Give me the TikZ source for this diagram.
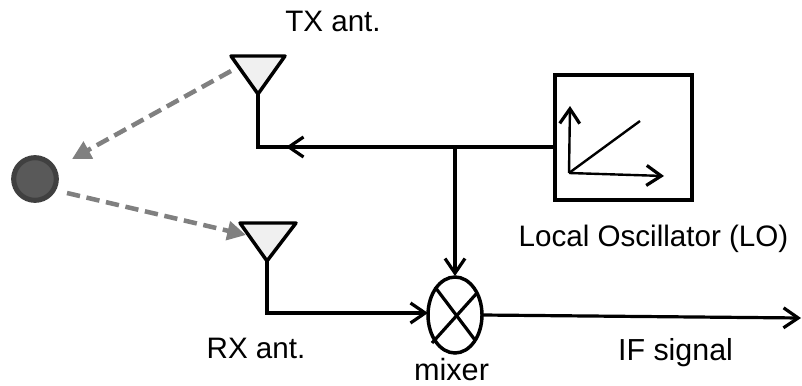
\documentclass[tikz,border=0pt]{standalone}
\usepackage{fontspec}
\setmainfont{Liberation Sans}
\usetikzlibrary{arrows.meta}
\tikzset{
  wire/.style={draw=black,line width=2.4pt},
  thick wire/.style={draw=black,line width=3.6pt},
  barb/.style={-{Straight Barb[length=11pt,width=15pt,line width=2.4pt]}},
  echo/.style={draw=black!50,line width=3.4pt,dash pattern=on 10pt off 5pt,-{Triangle[length=14pt,width=14pt,fill=black!50]}},
  ant/.style={draw=black,fill=black!6,line width=2.6pt,line join=round},
  lbl/.style={font=\fontsize{22.2}{24}\selectfont,inner sep=0pt,text=black,anchor=base}
}
\begin{document}
\begin{tikzpicture}[x=0.75pt,y=-0.75pt]
\useasboundingbox (0,0) rectangle (802,385);
% coordinates
\coordinate (txl) at (231,56); \coordinate (txr) at (285,56); \coordinate (txa) at (258,94);
\coordinate (rxl) at (240,223); \coordinate (rxr) at (296,223); \coordinate (rxa) at (267,261);
\coordinate (txc) at (258,147);
\coordinate (tj) at (455,147);
\coordinate (rxc) at (267,313);
\coordinate (ifend) at (801,318);
\coordinate (o) at (569,173); \coordinate (oy) at (570,106); \coordinate (ox) at (664,176); \coordinate (os) at (640,121);
\coordinate (d1s) at (231,71); \coordinate (d1e) at (72,159);
\coordinate (d2s) at (67,193); \coordinate (d2e) at (246,235);
% nodes
\node[draw=black!75,fill=black!65,line width=3.8pt,circle,inner sep=0pt,minimum size=32pt] (tgt) at (35,179) {};
\node[draw=black,line width=3pt,minimum width=102.5pt,minimum height=93.5pt,inner sep=0pt] (lo) at (623.5,137.5) {};
\coordinate (mx) at (455,315);
% mixer
\draw[black,line width=2.6pt] (mx) circle [x radius=27, y radius=38];
\draw[black,line width=2.4pt] (435,287) -- (475,340);
\draw[black,line width=2.4pt] (477,293) -- (432,343);
% antennas
\draw[ant] (txl) -- (txr) -- (txa) -- cycle;
\draw[ant] (rxl) -- (rxr) -- (rxa) -- cycle;
% wires
\draw[wire,line join=miter] (txa) -- (txc) -- (290,147);
\draw[thick wire,barb] (tj) -- (286,147);
\draw[wire] (tj) -- (tj -| lo.west);
\draw[wire,barb] (tj) -- (455,276);
\draw[wire,barb] (rxa) -- (rxc) -- (428,313);
\draw[wire,barb] (482,315) -- (ifend);
% LO plot
\draw[line width=1.8pt,barb] (o) -- (oy);
\draw[line width=1.8pt,barb] (o) -- (ox);
\draw[line width=1.8pt] (o) -- (os);
% echoes
\draw[echo] (d1s) -- (d1e);
\draw[echo] (d2s) -- (d2e);
% labels
\node[lbl] (txlab) at (333,32) {TX ant.};
\node[lbl] (rxlab) at (256,358) {RX ant.};
\node[lbl,font=\fontsize{23}{24}\selectfont] (mxlab) at (451.5,380) {mixer};
\node[lbl] (lolab) at (653.5,246) {Local Oscillator (LO)};
\node[lbl,font=\fontsize{22.8}{24}\selectfont] (iflab) at (675.5,360) {IF signal};
\end{tikzpicture}
\end{document}
